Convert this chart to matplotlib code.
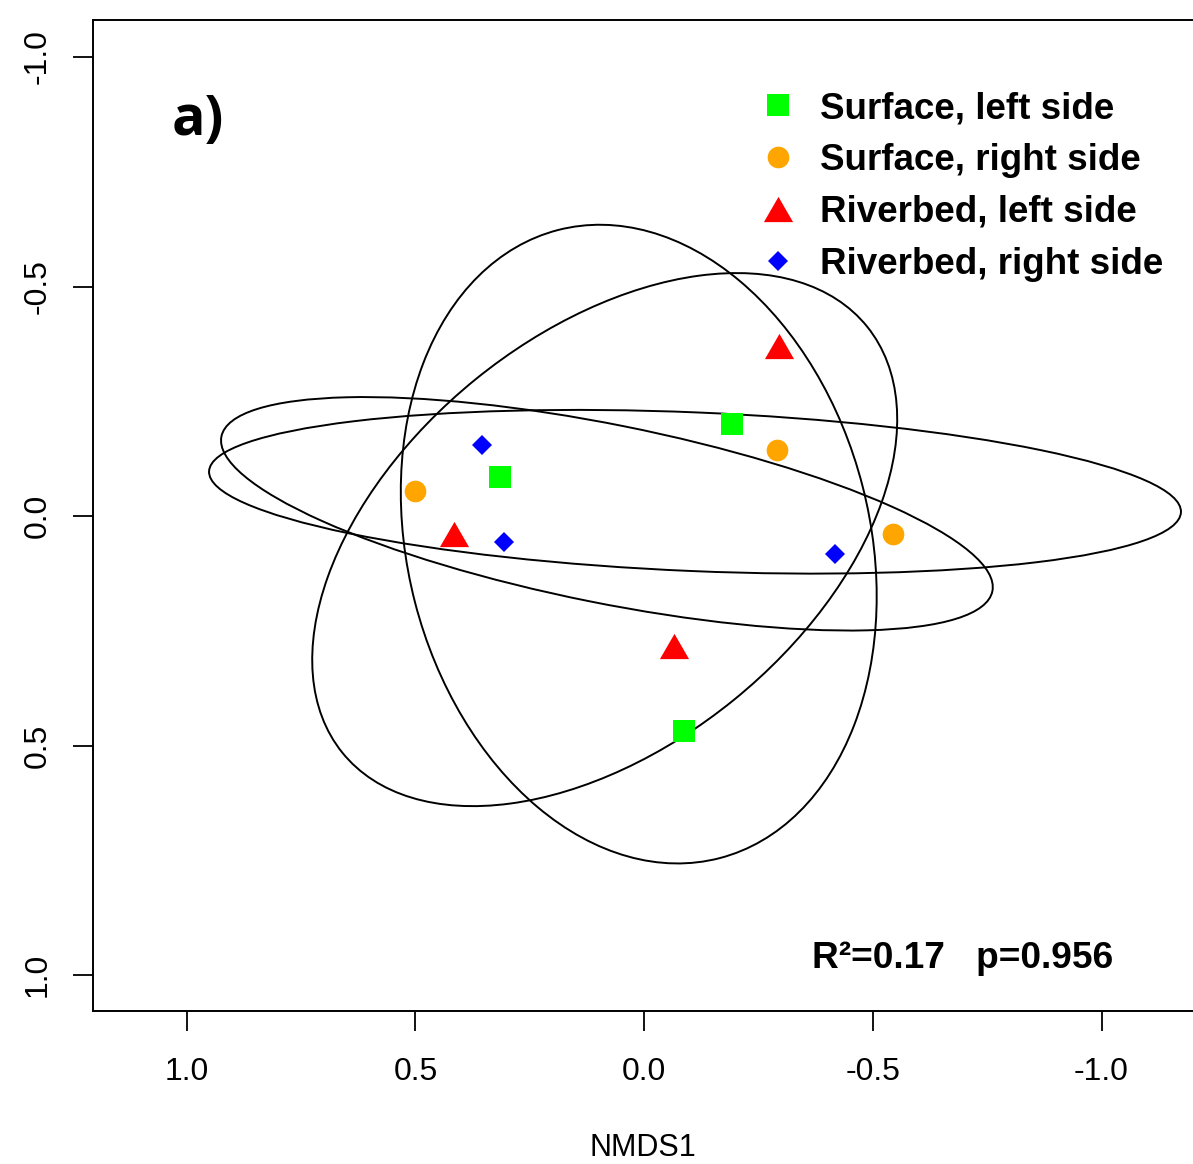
import numpy as np
import matplotlib
matplotlib.use("Agg")
import matplotlib.pyplot as plt
from matplotlib.patches import Ellipse

plt.rcParams['font.family'] = ['Liberation Sans', 'DejaVu Sans']

# NMDS scores per group
groups = ["Surface, left side", "Surface, right side", "Riverbed, left side", "Riverbed, right side"]
surf_left_x = [-0.192, 0.314, -0.087]
surf_left_y = [-0.200, -0.085, 0.468]
surf_right_x = [0.501, -0.290, -0.545]
surf_right_y = [-0.054, -0.144, 0.039]
river_left_x = [-0.296, 0.416, -0.065]
river_left_y = [-0.370, 0.039, 0.283]
river_right_x = [0.355, 0.307, -0.418]
river_right_y = [-0.155, 0.057, 0.083]

# group ellipses (centre, semi-axes, angle in degrees), same group order
ell_cx = [0.0117, -0.1113, 0.0861, 0.0813]
ell_cy = [0.0610, -0.0530, 0.0512, -0.0050]
ell_a = [0.7065, 1.0633, 0.7378, 0.8594]
ell_b = [0.5053, 0.1728, 0.4490, 0.1943]
ell_ang = [-75.5, -2.40, 38.95, -11.30]

colors = ["#00FF00", "#FFA500", "#FF0000", "#0000FF"]
tri = [(-1, -0.866), (1, -0.866), (0, 0.866)]   # equilateral like R pch 17
markers = ["s", "o", tri, "D"]
msizes = [15.8, 15.6, 21, 10.6]

xs = [surf_left_x, surf_right_x, river_left_x, river_right_x]
ys = [surf_left_y, surf_right_y, river_left_y, river_right_y]

fig = plt.figure(figsize=(11.93, 11.64), dpi=100)
ax = fig.add_axes([93 / 1193, 1 - 1011 / 1164, 1 - 93 / 1193, (1011 - 20) / 1164])

for cx, cy, a, b, ang in zip(ell_cx, ell_cy, ell_a, ell_b, ell_ang):
    ax.add_patch(Ellipse((cx, cy), 2 * a, 2 * b, angle=ang, fill=False,
                         edgecolor="black", linewidth=1.4))

for x, y, c, m, s, lab in zip(xs, ys, colors, markers, msizes, groups):
    ax.plot(x, y, linestyle="none", marker=m, markersize=s, color=c, markeredgewidth=0, label=lab)

ax.set_xlim(1.2048, -1.2)
ax.set_ylim(1.078, -1.0806)

ax.set_xticks([1.0, 0.5, 0.0, -0.5, -1.0])
ax.set_xticklabels(["1.0", "0.5", "0.0", "-0.5", "-1.0"])
ax.set_yticks([-1.0, -0.5, 0.0, 0.5, 1.0])
ax.set_yticklabels(["-1.0", "-0.5", "0.0", "0.5", "1.0"])
ax.tick_params(axis="both", length=14.4, width=1.3, labelsize=23, pad=19)
ax.tick_params(axis="y", labelrotation=90, pad=14.5)
for lab in ax.get_yticklabels():
    lab.set_va("center")

ax.spines["right"].set_visible(False)
for sp in ["left", "top", "bottom"]:
    ax.spines[sp].set_linewidth(1.4)

ax.set_xlabel("NMDS1", fontsize=22, labelpad=33)

ax.text(0.976, -0.861, "a)", fontsize=40, fontweight="bold", family="Open Sans",
        ha="center", va="center")
ax.text(-0.697, 0.963, "R\u00b2=0.17   p=0.956", fontsize=26.7, fontweight="bold",
        ha="center", va="center")

ax.legend(loc="upper left", bbox_to_anchor=(761 / 1193, 1 - 91 / 1164), bbox_transform=fig.transFigure,
          frameon=False, prop={"weight": "bold", "size": 26.5}, handlelength=0.94,
          handletextpad=0.67, labelspacing=0.46, borderpad=0, borderaxespad=0, numpoints=1)

plt.savefig("out.png", dpi=100)
